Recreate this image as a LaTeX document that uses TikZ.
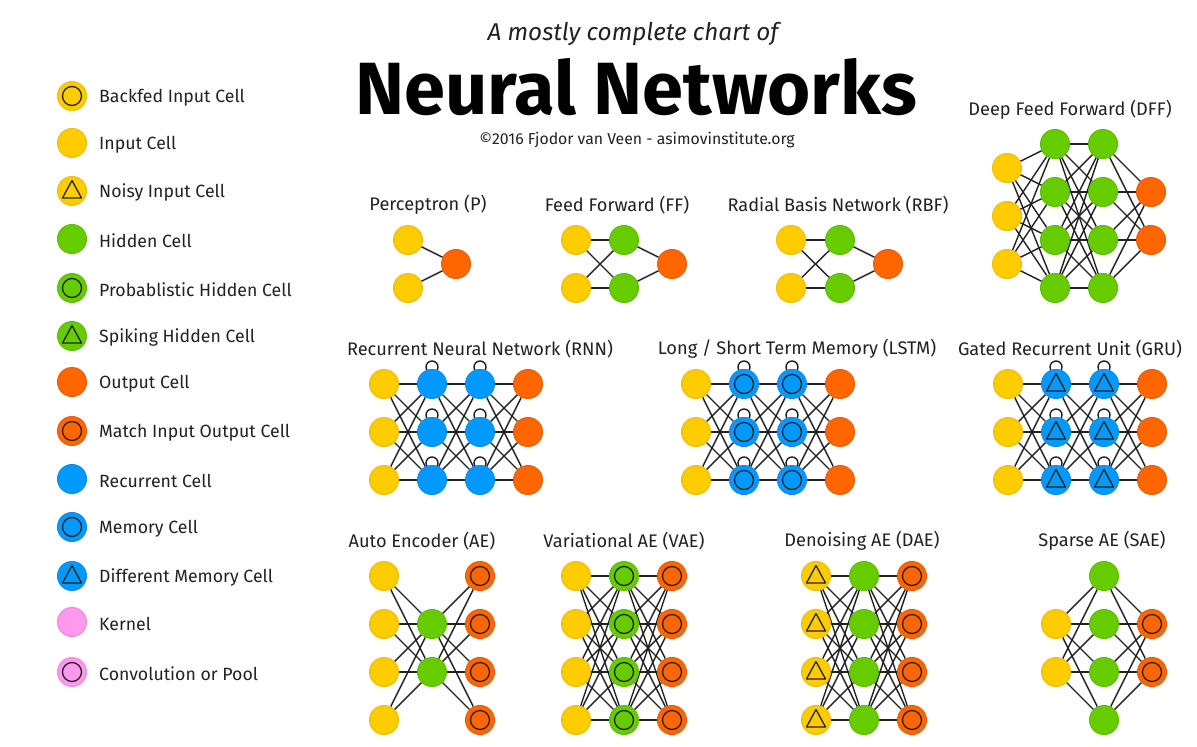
\documentclass[tikz,border=0pt]{standalone}
\usepackage{fontspec}
\setmainfont{Fira Sans}
\pgfdeclarelayer{bg}
\pgfdeclarelayer{edges}
\pgfsetlayers{bg,edges,main}
\definecolor{cyel}{HTML}{FFCC00}
\definecolor{cyelD}{HTML}{F2BC00}
\definecolor{cgrn}{HTML}{66CC00}
\definecolor{cgrnD}{HTML}{5CBC00}
\definecolor{corg}{HTML}{FF6600}
\definecolor{corgD}{HTML}{EE5C00}
\definecolor{cblu}{HTML}{0099FF}
\definecolor{cbluD}{HTML}{0A8CEE}
\definecolor{cpnk}{HTML}{FF99EE}
\definecolor{cpnkD}{HTML}{EE88DD}
\definecolor{ink}{HTML}{222222}
\tikzset{
  cell/.style={circle, minimum size=29pt, inner sep=0pt, line width=1pt},
  inp/.style={cell, fill=cyel, draw=cyelD},
  hid/.style={cell, fill=cgrn, draw=cgrnD},
  outc/.style={cell, fill=corg, draw=corgD},
  recc/.style={cell, fill=cblu, draw=cbluD},
  kerc/.style={cell, fill=cpnk, draw=cpnkD},
  ring/.style={path picture={\draw[line width=1.3pt, ink] (path picture bounding box.center) circle[radius=9.5pt];}},
  tri/.style={path picture={\draw[line width=1.3pt, ink, line join=round]
     ([yshift=10.5pt]path picture bounding box.center) --
     ([xshift=-9.5pt,yshift=-7pt]path picture bounding box.center) --
     ([xshift=9.5pt,yshift=-7pt]path picture bounding box.center) -- cycle;}},
  edge/.style={line width=1.4pt, draw=ink},
  lbl/.style={font=\fontsize{18.2}{21}\selectfont, text=ink, inner sep=0pt},
  leg/.style={font=\fontsize{17.7}{21}\selectfont, text=ink, inner sep=0pt, anchor=west},
}
\newcommand\mkcol[4]{\foreach \yy [count=\k] in {#4}{\node[#1] (#2\k) at (#3,\yy) {};}}
\newcommand\conn[4]{\begin{pgfonlayer}{edges}\foreach \a in {1,...,#2}{\foreach \b in {1,...,#4}{\draw[edge] (#1\a) -- (#3\b);}}\end{pgfonlayer}}
\newcommand\mkloops[2]{\begin{pgfonlayer}{edges}\foreach \a in {1,...,#2}{\draw[edge] ([yshift=2pt]#1\a.north) circle[radius=6];}\end{pgfonlayer}}
\begin{document}
\begin{tikzpicture}[x=1pt,y=-1pt]
\useasboundingbox (0,0) rectangle (1197,747);
\begin{pgfonlayer}{bg}
\fill[white] (0,0) rectangle (1197,747);
\end{pgfonlayer}
% header
\node[inner sep=0pt, text=ink, font=\fontsize{24.3}{28}\selectfont\itshape] (sub) at (633,34) {A mostly complete chart of};
\node[inner sep=0pt, text=black, font=\fontsize{74}{80}\selectfont\bfseries] (head) at (636,87) {Neural Networks};
\node[inner sep=0pt, text=ink, font=\fontsize{15.8}{19}\selectfont] (copy) at (637,140) {©2016 Fjodor van Veen - asimovinstitute.org};
% legend
\node[inp,ring] (lg1) at (72,96) {};   \node[leg] (lt1) at (99,97.5) {Backfed Input Cell};
\node[inp] (lg2) at (72,143) {};       \node[leg] (lt2) at (99,144.5) {Input Cell};
\node[inp,tri] (lg3) at (72,191) {};   \node[leg] (lt3) at (99,192.5) {Noisy Input Cell};
\node[hid] (lg4) at (72,239) {};       \node[leg] (lt4) at (99,240.5) {Hidden Cell};
\node[hid,ring] (lg5) at (72,288) {};  \node[leg] (lt5) at (99,289.5) {Probablistic Hidden Cell};
\node[hid,tri] (lg6) at (72,336) {};   \node[leg] (lt6) at (99,337.5) {Spiking Hidden Cell};
\node[outc] (lg7) at (72,382) {};      \node[leg] (lt7) at (99,383.5) {Output Cell};
\node[outc,ring] (lg8) at (72,431) {}; \node[leg] (lt8) at (99,432.5) {Match Input Output Cell};
\node[recc] (lg9) at (72,479) {};      \node[leg] (lt9) at (99,480.5) {Recurrent Cell};
\node[recc,ring] (lg10) at (72,527) {};\node[leg] (lt10) at (99,528.5) {Memory Cell};
\node[recc,tri] (lg11) at (72,576) {}; \node[leg] (lt11) at (99,577.5) {Different Memory Cell};
\node[kerc] (lg12) at (72,622) {};     \node[leg] (lt12) at (99,623.5) {Kernel};
\node[kerc,ring] (lg13) at (72,672) {};\node[leg] (lt13) at (99,673.5) {Convolution or Pool};
% Perceptron
\node[lbl] (pt) at (428,205) {Perceptron (P)};
\mkcol{inp}{pi}{408}{240,288}
\mkcol{outc}{po}{456}{264}
\conn{pi}{2}{po}{1}
% FF
\node[lbl] (ft) at (617,205) {Feed Forward (FF)};
\mkcol{inp}{fi}{576}{240,288}
\mkcol{hid}{fh}{624}{240,288}
\mkcol{outc}{fo}{672}{264}
\conn{fi}{2}{fh}{2}\conn{fh}{2}{fo}{1}
% RBF
\node[lbl] (rt) at (838,205) {Radial Basis Network (RBF)};
\mkcol{inp}{ri}{791}{240,288}
\mkcol{hid}{rh}{840}{240,288}
\mkcol{outc}{ro}{888}{264}
\conn{ri}{2}{rh}{2}\conn{rh}{2}{ro}{1}
% DFF
\node[lbl] (dt) at (1070,110) {Deep Feed Forward (DFF)};
\mkcol{inp}{di}{1007}{168,216,264}
\mkcol{hid}{da}{1055}{144,192,240,288}
\mkcol{hid}{db}{1103}{144,192,240,288}
\mkcol{outc}{do}{1151}{192,240}
\conn{di}{3}{da}{4}\conn{da}{4}{db}{4}\conn{db}{4}{do}{2}
% RNN
\node[lbl] (nt) at (480,349) {Recurrent Neural Network (RNN)};
\mkcol{inp}{ni}{384}{384,432,480}
\mkcol{recc}{na}{432}{384,432,480}
\mkcol{recc}{nb}{480}{384,432,480}
\mkcol{outc}{no}{528}{384,432,480}
\conn{ni}{3}{na}{3}\conn{na}{3}{nb}{3}\conn{nb}{3}{no}{3}
\mkloops{na}{3}\mkloops{nb}{3}
% LSTM
\node[lbl] (lt) at (797,349) {Long / Short Term Memory (LSTM)};
\mkcol{inp}{li}{696}{384,432,480}
\mkcol{recc,ring}{la}{744}{384,432,480}
\mkcol{recc,ring}{lb}{792}{384,432,480}
\mkcol{outc}{lo}{840}{384,432,480}
\conn{li}{3}{la}{3}\conn{la}{3}{lb}{3}\conn{lb}{3}{lo}{3}
\mkloops{la}{3}\mkloops{lb}{3}
% GRU
\node[lbl] (gt) at (1070,349) {Gated Recurrent Unit (GRU)};
\mkcol{inp}{gi}{1008}{384,432,480}
\mkcol{recc,tri}{ga}{1056}{384,432,480}
\mkcol{recc,tri}{gb}{1104}{384,432,480}
\mkcol{outc}{go}{1152}{384,432,480}
\conn{gi}{3}{ga}{3}\conn{ga}{3}{gb}{3}\conn{gb}{3}{go}{3}
\mkloops{ga}{3}\mkloops{gb}{3}
% AE
\node[lbl] (at) at (422,541) {Auto Encoder (AE)};
\mkcol{inp}{ai}{384}{576,624,672,720}
\mkcol{hid}{ah}{432}{624,672}
\mkcol{outc,ring}{ao}{480}{576,624,672,720}
\conn{ai}{4}{ah}{2}\conn{ah}{2}{ao}{4}
% VAE
\node[lbl] (vt) at (624,541) {Variational AE (VAE)};
\mkcol{inp}{vi}{576}{576,624,672,720}
\mkcol{hid,ring}{vh}{624}{576,624,672,720}
\mkcol{outc,ring}{vo}{672}{576,624,672,720}
\conn{vi}{4}{vh}{4}\conn{vh}{4}{vo}{4}
% DAE
\node[lbl] (et) at (862,541) {Denoising AE (DAE)};
\mkcol{inp,tri}{ei}{816}{576,624,672,720}
\mkcol{hid}{eh}{864}{576,624,672,720}
\mkcol{outc,ring}{eo}{912}{576,624,672,720}
\conn{ei}{4}{eh}{4}\conn{eh}{4}{eo}{4}
% SAE
\node[lbl] (st) at (1102,541) {Sparse AE (SAE)};
\mkcol{inp}{si}{1056}{624,672}
\mkcol{hid}{sh}{1104}{576,624,672,720}
\mkcol{outc,ring}{so}{1152}{624,672}
\conn{si}{2}{sh}{4}\conn{sh}{4}{so}{2}
\end{tikzpicture}
\end{document}
